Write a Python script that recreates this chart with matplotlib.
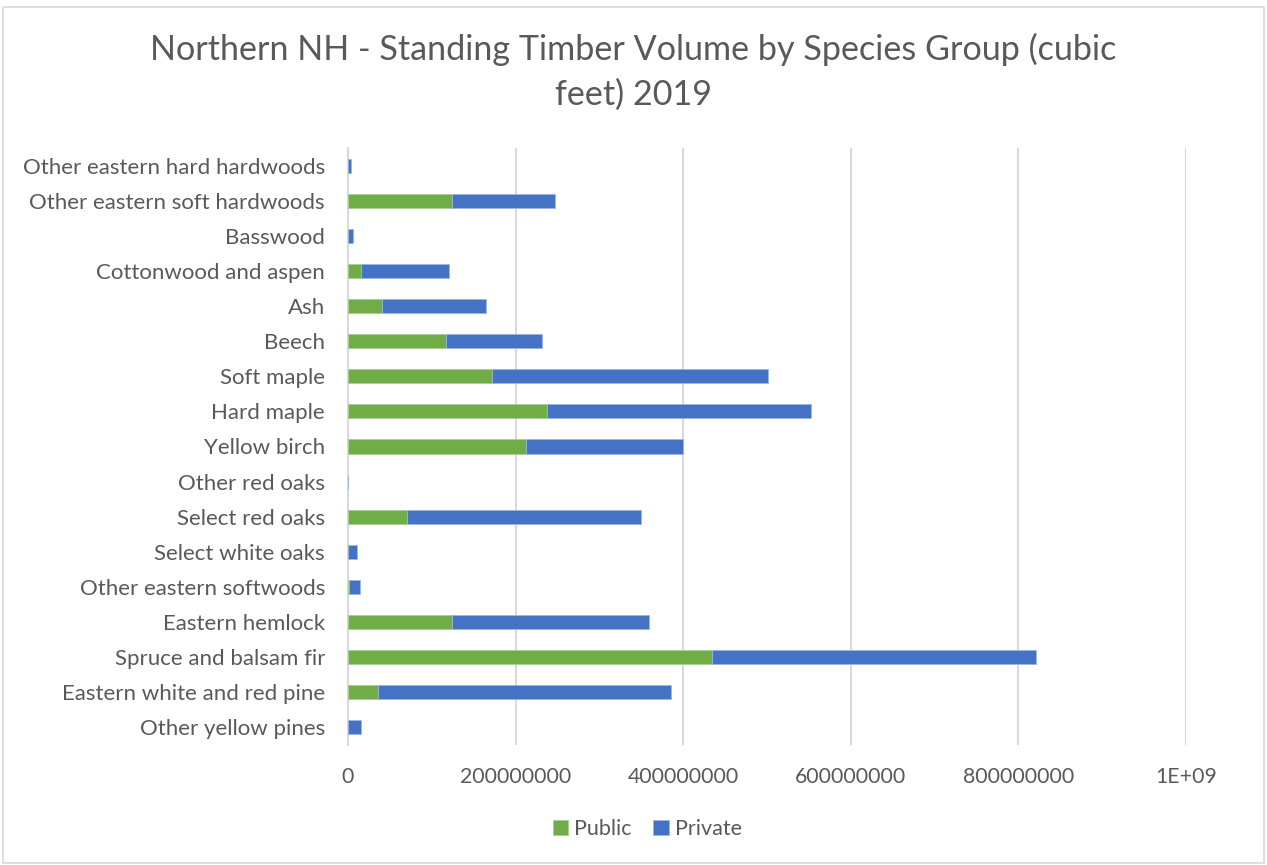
import numpy as np
import matplotlib.pyplot as plt
from matplotlib.ticker import FuncFormatter
from matplotlib.patches import Rectangle

# Standing timber volume, cubic feet (bottom-to-top order as listed)
species = [
    "Other yellow pines",
    "Eastern white and red pine",
    "Spruce and balsam fir",
    "Eastern hemlock",
    "Other eastern softwoods",
    "Select white oaks",
    "Select red oaks",
    "Other red oaks",
    "Yellow birch",
    "Hard maple",
    "Soft maple",
    "Beech",
    "Ash",
    "Cottonwood and aspen",
    "Basswood",
    "Other eastern soft hardwoods",
    "Other eastern hard hardwoods",
]
public = [0, 36e6, 434e6, 124e6, 1.5e6, 0, 71e6, 0, 212e6, 237e6,
          172e6, 117e6, 41e6, 15e6, 0, 124e6, 0]
private = [15.5e6, 350e6, 387e6, 235e6, 12.5e6, 11e6, 279e6, 0, 188e6, 316e6,
           329e6, 115e6, 124e6, 105e6, 6e6, 123e6, 4e6]

GREEN = "#70AD47"
BLUE = "#4472C4"
TEXT = "#595959"

plt.rcParams["font.family"] = ["Lato", "DejaVu Sans"]

fig = plt.figure(figsize=(12.67, 8.65), dpi=100)
ax = fig.add_axes([348 / 1267, 1 - 745 / 865, (1186 - 348) / 1267, (745 - 148) / 865])

y = np.arange(len(species))
pub = np.array(public)
priv = np.array(private)
ax.barh(y, pub, height=0.4, color=GREEN, edgecolor="#A9CD92", linewidth=0.6, label="Public", zorder=3)
ax.barh(y, priv, left=pub, height=0.4, color=BLUE, edgecolor="#9DB5E2", linewidth=0.6, label="Private", zorder=3)

ax.set_xlim(0, 1e9)
ax.set_ylim(-0.5, len(species) - 0.5)
ax.set_xticks(np.arange(0, 1.0e9 + 1, 2e8))
ax.xaxis.set_major_formatter(FuncFormatter(lambda v, _: "1E+09" if v >= 1e9 else f"{int(v)}"))
ax.set_yticks(y)
ax.set_yticklabels(species)

ax.grid(axis="x", color="#D9D9D9", linewidth=1.5, zorder=0)
ax.tick_params(axis="both", length=0, colors=TEXT)
ax.tick_params(axis="x", pad=16, labelsize=15.3)
ax.tick_params(axis="y", pad=16.5, labelsize=16)
for side in ["top", "right", "bottom"]:
    ax.spines[side].set_visible(False)
ax.spines["left"].set_color("#D9D9D9")
ax.spines["left"].set_linewidth(1.5)

fig.text(0.5, 1 - 72 / 865, "Northern NH - Standing Timber Volume by Species Group (cubic\nfeet) 2019",
         ha="center", va="center", fontsize=24.6, color=TEXT, linespacing=1.48)

fig.legend(loc="center", bbox_to_anchor=(0.511, 1 - 829 / 865), ncol=2, frameon=False,
           fontsize=15.5, labelcolor=TEXT, handlelength=0.7, handleheight=0.7,
           handletextpad=0.3, columnspacing=1.0)

# Chart area border
fig.patches.append(Rectangle((0.002, 0.002), 0.996, 0.99, transform=fig.transFigure,
                             fill=False, edgecolor="#D9D9D9", linewidth=1.2))

fig.savefig("out.png", dpi=100)
